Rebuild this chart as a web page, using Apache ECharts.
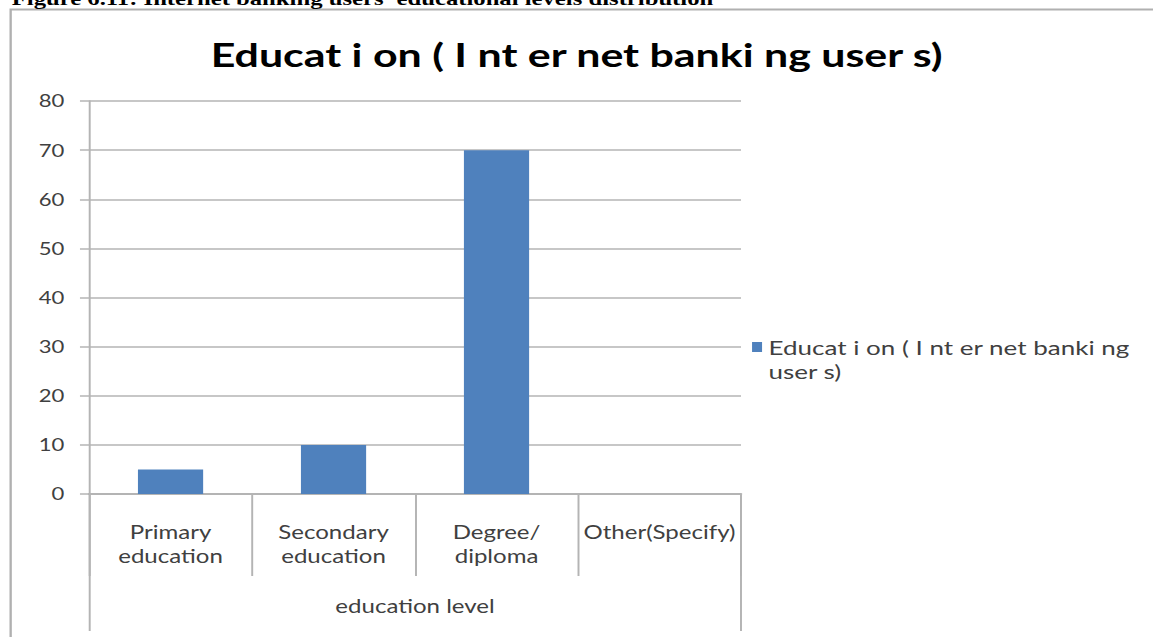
<!DOCTYPE html>
<html>
<head>
<meta charset="utf-8">
<script src="https://cdn.jsdelivr.net/npm/echarts@6/dist/echarts.min.js"></script>
<style>
  html, body { margin: 0; padding: 0; background: #ffffff; overflow: hidden; }
  /* The figure is laid out on a narrower canvas and widened 1.3x, giving the broad lettering of the printed figure */
  #chart { width: 887px; height: 637px; transform: scaleX(1.3); transform-origin: 0 0; }
</style>
</head>
<body>
<div id="chart"></div>
<script>
// Education level of internet banking users
const categories = ['Primary\neducation', 'Secondary\neducation', 'Degree/\ndiploma', 'Other(Specify)'];
const userCounts = [5, 10, 70, 0];
const yTicks = { min: 0, max: 80, interval: 10 };
const seriesName = 'Educat i on ( I nt er net banki ng user s)';
// a leading empty line keeps the legend swatch level with the first text line
const legendLines = '\nEducat i on ( I nt er net banki ng\nuser s)';
const chartTitle = 'Educat i on ( I nt er net banki ng user s)';
const axisTitle = 'education level';
const caption = "Figure 6.11: Internet banking users' educational levels distribution";

const labelFont = 'Lato, "Open Sans", sans-serif';
const lineGrey = '#b4b4b4';
const textGrey = '#404040';

const chart = echarts.init(document.getElementById('chart'), null, { renderer: 'svg' });

chart.setOption({
  backgroundColor: '#ffffff',
  animation: false,
  title: {
    text: chartTitle,
    left: 'center',
    top: 33,
    textStyle: { fontFamily: labelFont, fontSize: 33, fontWeight: 'bold', color: '#000000' }
  },
  graphic: [
    {
      type: 'text',
      left: 9,
      top: -11,
      style: {
        text: caption,
        font: 'bold 19px "Liberation Serif", serif',
        fill: '#000000'
      },
      z: 10
    },
    {
      type: 'rect',
      shape: { x: 8.2, y: 9.5, width: 1000, height: 800 },
      style: { fill: 'none', stroke: '#b0b0b0', lineWidth: 1.8 },
      silent: true,
      z: 0
    }
  ],
  legend: {
    left: 578.5,
    top: 311,
    padding: 0,
    itemWidth: 7.7,
    itemHeight: 10,
    icon: 'rect',
    formatter: function () { return legendLines; },
    textStyle: {
      fontFamily: labelFont,
      fontSize: 20,
      color: textGrey,
      lineHeight: 24
    },
    data: [seriesName]
  },
  grid: { left: 68.5, right: 317, top: 101, bottom: 143, containLabel: false },
  xAxis: [
    {
      type: 'category',
      data: categories,
      position: 'bottom',
      boundaryGap: true,
      axisLine: { show: true, lineStyle: { color: lineGrey, width: 2 } },
      axisTick: { show: true, interval: 0, length: 82, lineStyle: { color: lineGrey, width: 1.5 } },
      axisLabel: {
        interval: 0,
        margin: 26,
        fontFamily: labelFont,
        fontSize: 18.5,
        color: textGrey,
        lineHeight: 24
      }
    },
    {
      type: 'category',
      data: [axisTitle],
      position: 'bottom',
      boundaryGap: true,
      axisLine: { show: false },
      axisTick: { show: true, interval: 0, length: 137, lineStyle: { color: lineGrey, width: 1.5 } },
      axisLabel: {
        interval: 0,
        margin: 103,
        fontFamily: labelFont,
        fontSize: 18.5,
        color: textGrey
      }
    }
  ],
  yAxis: {
    type: 'value',
    min: yTicks.min,
    max: yTicks.max,
    interval: yTicks.interval,
    axisLine: { show: true, lineStyle: { color: lineGrey, width: 1.5 } },
    axisTick: { show: true, length: 7, lineStyle: { color: lineGrey, width: 1.5 } },
    axisLabel: {
      margin: 19,
      fontFamily: labelFont,
      fontSize: 17,
      color: textGrey
    },
    splitLine: { show: true, lineStyle: { color: lineGrey, width: 1.5 } }
  },
  series: [
    {
      name: seriesName,
      type: 'bar',
      xAxisIndex: 0,
      data: userCounts,
      barWidth: '40%',
      itemStyle: { color: '#4f81bd' }
    }
  ]
});
</script>
</body>
</html>
